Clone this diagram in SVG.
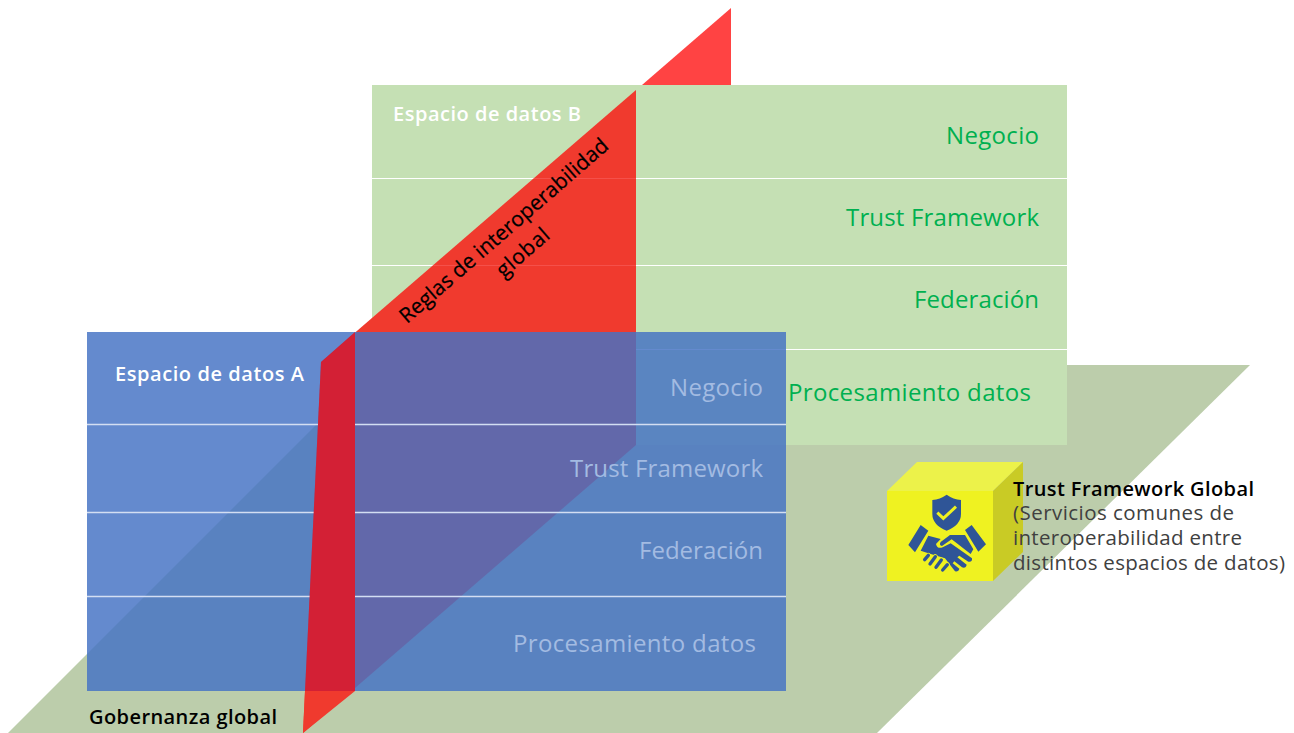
<svg xmlns="http://www.w3.org/2000/svg" width="1294" height="733" viewBox="0 0 1294 733">
<style>
text{font-family:"Open Sans","Noto Sans","Liberation Sans",sans-serif}
.g{font-size:24px;fill:#00b050}
.a{font-size:24px;fill:#a3bbe2}
.t{font-size:20px;font-weight:600}
.d{font-size:20.500px;fill:#404040}
.l{stroke:#fff;stroke-width:1.2;fill:none}
.la{stroke:#d3def2;stroke-width:1.4;fill:none}
.ic{fill:#2f5597}
.fy{fill:none;stroke:#eff221;stroke-width:15;stroke-linecap:round}
.fb{fill:none;stroke:#2f5597;stroke-width:10;stroke-linecap:round}
</style>
<rect width="1294" height="733" fill="#fff"/>
<g id="gobernanza-plane"><polygon points="8,733 376,365 1250,365 877,733" fill="#bccdab"/></g>
<g id="red-tip"><polygon points="731,8 731,85 642,85" fill="#ff4343"/></g>
<g id="espacio-b">
<rect x="372" y="85" width="695" height="360" fill="#c5e0b4"/>
<path class="l" d="M372 178.500H1067M372 265.500H1067M372 349.500H1067"/>
<text class="t" x="393" y="121" fill="#fff" textLength="188">Espacio de datos B</text>
<text class="g" x="946" y="144" textLength="93">Negocio</text>
<text class="g" x="846" y="226" textLength="193">Trust Framework</text>
<text class="g" x="914" y="308" textLength="125">Federación</text>
<text class="g" x="788" y="401" textLength="243">Procesamiento datos</text>
</g>
<g id="red-plane"><polygon points="636,90 636,445 303,733 321,362" fill="#f03a2e"/>
<path d="M534 178.500H636M433 265.500H636" stroke="#f5504a" stroke-width="1" fill="none"/></g>
<g id="espacio-a">
<rect x="87" y="332" width="699" height="359" fill="#4472c4" fill-opacity=".83"/>
<path class="la" d="M87 424.500H786M87 512.500H786M87 596.500H786"/>
<text class="t" x="115" y="381" fill="#fff" textLength="189">Espacio de datos A</text>
<text class="a" x="670" y="396" textLength="93">Negocio</text>
<text class="a" x="570" y="477" textLength="193">Trust Framework</text>
<text class="a" x="639" y="559" textLength="124">Federación</text>
<text class="a" x="513" y="652" textLength="243">Procesamiento datos</text>
</g>
<g id="red-front"><polygon points="321,362 355,332 355,691 305,691" fill="#d32035"/><polygon points="305,691 355,691 303,733" fill="#f03a2e"/></g>
<g id="reglas" transform="rotate(-41 508.500 236)" font-size="21" fill="#000" stroke="#000" stroke-width=".25">
<text x="374" y="236" textLength="269">Reglas de interoperabilidad</text>
<text x="477" y="265" textLength="63">global</text>
</g>
<g id="trust-framework-global">
<polygon points="887,491 917,462 1023,462 993,491" fill="#ecf24a"/>
<polygon points="993,491 1023,462 1023,552 993,581" fill="#c9cb25"/>
<rect x="887" y="491" width="106" height="90" fill="#eff221"/>
<g transform="translate(900 490) scale(.3333)">
<path class="ic" d="M140 14Q160 28 183 30V72Q183 105 140 122Q97 105 97 72V30Q120 28 140 14Z"/>
<path d="M112 68L130 85L168 50" fill="none" stroke="#eff221" stroke-width="9"/>
<path class="ic" d="M62 105L85 122L45 187L25 165ZM215 105L195 120L235 185L258 163Z"/>
<path class="ic" d="M85 137L122 147L108 162Q112 178 128 172L152 160L216 205Q218 217 205 215L178 197L172 202L200 224Q198 236 186 232L163 214L158 220L178 236Q176 246 165 244L135 205L85 190L62 182Z"/>
<path class="ic" d="M122 156L150 135L195 135L220 178L212 192L155 148L126 168Q116 165 122 156Z"/>
<path class="fy" d="M74 209L85 196M90 222L106 200M108 232L124 210M128 240L142 224"/>
<path class="fb" d="M74 209L85 196M90 222L106 200M108 232L124 210M128 240L142 224"/>
</g>
</g>
<g id="labels">
<text class="t" x="1013" y="496" fill="#000" textLength="241">Trust Framework Global</text>
<text class="d" x="1013" y="520" textLength="221">(Servicios comunes de</text>
<text class="d" x="1013" y="545" textLength="229">interoperabilidad entre</text>
<text class="d" x="1013" y="570" textLength="272">distintos espacios de datos)</text>
<text class="t" x="89" y="724" fill="#000" textLength="188">Gobernanza global</text>
</g>
</svg>
